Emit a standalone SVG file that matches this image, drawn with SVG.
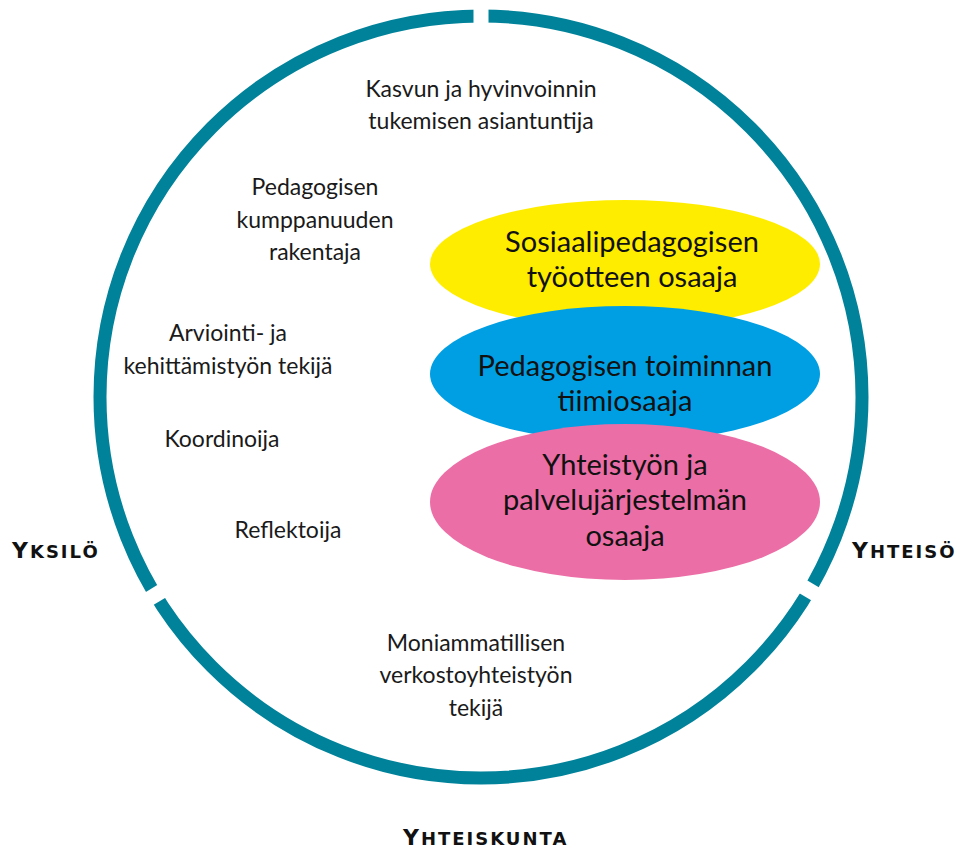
<svg xmlns="http://www.w3.org/2000/svg" width="968" height="849" viewBox="0 0 968 849">
<style>
.small{font-family:Lato,"Open Sans","Liberation Sans",sans-serif;font-size:23px;fill:#1a1a1a;text-anchor:middle}
.big{font-family:Lato,"Open Sans","Liberation Sans",sans-serif;font-size:29px;fill:#111;text-anchor:middle}
.axis{font-family:"DejaVu Sans","Open Sans",sans-serif;font-weight:bold;fill:#111;letter-spacing:2px}
.gap{fill:#fff}
</style>
<rect width="968" height="849" fill="#fff"/>
<g id="ring">
<circle cx="481" cy="397" r="381" fill="none" stroke="#00829A" stroke-width="13"/>
<rect class="gap" x="852" y="389.5" width="20" height="15" transform="rotate(-90 481 397)"/>
<rect class="gap" x="852" y="389.5" width="20" height="15" transform="rotate(148.7 481 397)"/>
<rect class="gap" x="852" y="389.5" width="20" height="15" transform="rotate(30.5 481 397)"/>
</g>
<g id="yellow">
<ellipse cx="625" cy="264" rx="195" ry="64" fill="#FFED00"/>
<text class="big"><tspan x="632" y="252">Sosiaalipedagogisen</tspan><tspan x="632" y="287">työotteen osaaja</tspan></text>
</g>
<g id="blue">
<ellipse cx="625" cy="374" rx="195" ry="68" fill="#009FE3"/>
<text class="big"><tspan x="625" y="376">Pedagogisen toiminnan</tspan><tspan x="625" y="411">tiimiosaaja</tspan></text>
</g>
<g id="pink">
<ellipse cx="625" cy="502" rx="195" ry="78" fill="#EC6EA6"/>
<text class="big"><tspan x="625" y="475">Yhteistyön ja</tspan><tspan x="625" y="510">palvelujärjestelmän</tspan><tspan x="625" y="546">osaaja</tspan></text>
</g>
<g id="kasvun"><text class="small"><tspan x="481" y="97">Kasvun ja hyvinvoinnin</tspan><tspan x="481" y="129">tukemisen asiantuntija</tspan></text></g>
<g id="kumppanuus"><text class="small"><tspan x="315" y="195">Pedagogisen</tspan><tspan x="315" y="228">kumppanuuden</tspan><tspan x="315" y="260">rakentaja</tspan></text></g>
<g id="arviointi"><text class="small"><tspan x="228" y="341">Arviointi- ja</tspan><tspan x="228" y="374">kehittämistyön tekijä</tspan></text></g>
<g id="koordinoija"><text class="small" x="222" y="447">Koordinoija</text></g>
<g id="reflektoija"><text class="small" x="288" y="538">Reflektoija</text></g>
<g id="moniammatillisen"><text class="small"><tspan x="476" y="651">Moniammatillisen</tspan><tspan x="476" y="683">verkostoyhteistyön</tspan><tspan x="476" y="716">tekijä</tspan></text></g>
<g id="yksilo"><text class="axis" x="12" y="558"><tspan font-size="22">Y</tspan><tspan font-size="18">KSILÖ</tspan></text></g>
<g id="yhteiso"><text class="axis" x="852" y="558"><tspan font-size="22">Y</tspan><tspan font-size="18">HTEISÖ</tspan></text></g>
<g id="yhteiskunta"><text class="axis" x="403" y="845"><tspan font-size="22">Y</tspan><tspan font-size="18">HTEISKUNTA</tspan></text></g>
<g id="connectors"/>
</svg>
